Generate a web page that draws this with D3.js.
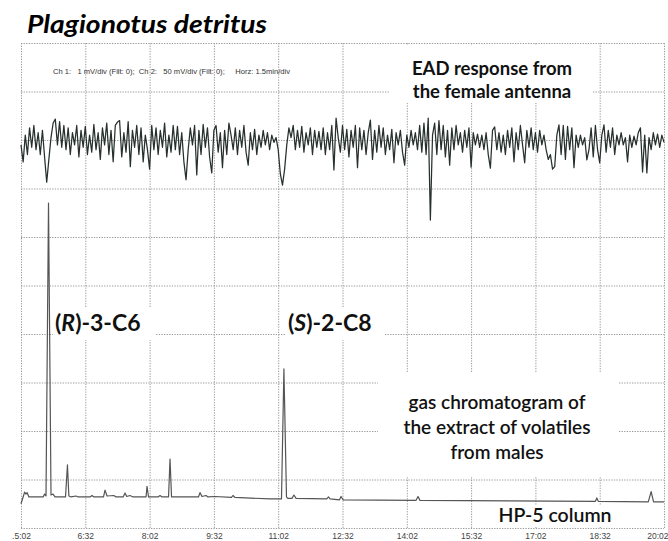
<!DOCTYPE html>
<html><head><meta charset="utf-8">
<script src="https://cdn.jsdelivr.net/npm/d3@7"></script>
<style>body{margin:0;background:#fff}svg{display:block}</style>
</head><body>
<script>
// ---- data ----
const tickTimes  = [302,392,482,572,662,752,842,932,1022,1112,1202]; // seconds
const tickLabels = [".5:02","6:32","8:02","9:32","11:02","12:32","14:02","15:32","17:02","18:32","20:02"];
const gcGridValues = [0,50,100,150,200,250,300,350,400,450,500]; // mV (50 mV/div)

// EAD trace (Ch 1, mV), one sample every 3 s starting at 302 s
const eadStart = 302, eadStep = 3;
const eadValues = [
 -0.1,-0.45,0.1,-0.3,0.25,-0.15,0.3,-0.2,0.15,-0.3,0.2,-0.35,-0.87,-0.4,0.05,0.35,0.43,-0.1,0.38,-0.15,
 0.3,-0.2,0.25,-0.3,0.15,-0.1,0.3,-0.35,0.2,-0.15,0.28,-0.3,0.1,-0.25,0.32,-0.2,0.15,-0.4,0.25,-0.1,
 0.35,-0.3,0.2,-0.45,0.3,0.37,0.4,-0.35,0.15,-0.25,0.38,-0.55,0.2,-0.15,0.3,-0.3,0.25,-0.45,0.1,-0.2,
 -0.6,0.3,-0.2,0.25,-0.3,0.2,-0.15,0.35,-0.35,0.1,-0.25,0.3,-0.2,0.28,-0.3,0.15,-0.45,-0.82,-0.2,0.25,
 -0.1,0.3,-0.72,0.2,-0.3,0.32,-0.15,0.25,-0.35,-0.68,0.2,0.3,-0.25,0.15,-0.57,0.2,-0.3,0.35,0.1,-0.2,
 0.25,-0.3,0.2,-0.15,0.3,-0.25,-0.52,0.15,-0.2,0.22,-0.3,0.1,-0.15,0.2,-0.1,0.15,-0.2,0.1,-0.05,0.05,
 -0.2,-0.7,-0.93,-0.6,-0.1,0.25,0.05,0.3,-0.2,0.2,-0.15,0.28,-0.25,0.15,-0.1,0.25,-0.3,0.2,-0.15,0.18,
 -0.2,0.25,-0.3,0.15,-0.2,0.3,-0.62,0.45,0.05,-0.25,0.3,-0.2,0.22,-0.35,0.2,-0.15,0.3,-0.57,0.25,-0.2,
 0.2,-0.3,0.15,0.41,-0.4,0.2,-0.25,0.3,-0.15,0.25,-0.3,0.1,-0.2,0.22,-0.47,0.15,-0.1,0.2,-0.25,-0.52,
 0.1,-0.15,0.2,-0.1,0.15,-0.2,0.3,-0.25,0.35,-0.3,0.45,-1.65,0.1,0.35,-0.3,0.4,-0.2,0.3,-0.35,0.2,
 -0.52,0.25,-0.2,0.3,-0.1,0.15,-0.25,0.2,-0.15,0.25,-0.56,0.15,-0.1,0.12,-0.15,0.1,-0.2,0.15,-0.3,-0.58,
 0.2,0.27,-0.2,0.15,-0.25,0.1,-0.3,0.2,-0.15,0.25,-0.45,0.15,-0.2,0.3,-0.1,-0.47,0.2,-0.15,0.25,-0.2,
 0.15,-0.25,0.2,-0.1,0.1,-0.2,-0.4,-0.3,-0.6,-0.55,0.1,0.31,-0.3,0.3,-0.4,0.28,-0.2,0.25,-0.57,0.1,
 -0.15,0.1,-0.1,0.05,-0.41,-0.2,0.25,-0.35,0.3,-0.2,-0.47,0.1,0.31,-0.25,0.2,-0.15,0.25,-0.3,0.1,-0.1,
 0.15,-0.1,0.05,-0.45,0.1,-0.15,0.08,-0.1,0.15,0.25,-0.66,0.1,-0.68,0.05,-0.2,0.15,-0.1,0.12,-0.15,0.1,-0.05
];

// GC trace (Ch 2): retention time (s) and signal (mV)
const gcTimes = [302,305,307,309,310.5,313,333,335,337,340.5,344,346.8,349.6,364.3,367,369,372,379,382,398.6,401.4,404,
 417.5,419.6,422.4,432,435,445,447.6,450,454.5,458.8,477,478.4,480.5,493.8,496.6,499.4,508.5,510.6,512.7,
 550.4,552.5,555.3,561,563.7,573.5,596.6,598.7,601.5,650.5,666.6,670,673.6,675.5,681.3,684,687,
 730,732.4,734.6,747.8,750,753,855,857.7,860.5,1106,1108,1110,1180,1184,1187.4,1202];
const gcValues = [25,32,37,35,36.5,32,32,35,33,335,34,35,32,32,65,33,32,33,32,32,33.5,32,
 32,39,33,33.5,32,32,36,32.5,33.5,32,32,43,32,32,33.5,32,32,71,32,
 32,36.5,32.5,33.5,32,32.5,31.5,33.5,31.5,30,30,164,32,30.5,30.5,34,30.5,
 30,32,30,29,32.5,29,28.5,32.5,28.5,27.5,31,27.5,27,37.5,27,27];

// ---- layout ----
const W = 668, H = 541;
const L = 21, R = 664, T = 43, B = 528;
const svg = d3.select("body").append("svg").attr("width", W).attr("height", H);

const x = d3.scaleLinear().domain([302,1202]).range([L,R]);
const yGC = d3.scaleLinear().domain([0,500]).range([B,T]);
const yEAD = d3.scaleLinear().domain([-8,2]).range([B,T]); // 1 mV/div

const gridCol = "#9a9a9a";
// vertical grid
svg.append("g").attr("transform",`translate(0,${B})`)
  .call(d3.axisBottom(x).tickValues(tickTimes).tickSize(-(B-T)).tickFormat(""))
  .call(g=>g.select(".domain").remove())
  .call(g=>g.selectAll("line").attr("stroke",gridCol).attr("stroke-dasharray","1.3,1.3").attr("stroke-width",1));
// horizontal grid
svg.append("g").attr("transform",`translate(${L},0)`)
  .call(d3.axisLeft(yGC).tickValues(gcGridValues).tickSize(-(R-L)).tickFormat(""))
  .call(g=>g.select(".domain").remove())
  .call(g=>g.selectAll("line").attr("stroke",gridCol).attr("stroke-dasharray","1.3,1.3").attr("stroke-width",1));

// time labels
svg.append("g").attr("transform",`translate(0,${B})`)
  .call(d3.axisBottom(x).tickValues(tickTimes).tickSize(0).tickPadding(5).tickFormat((d,i)=>tickLabels[i]))
  .call(g=>g.select(".domain").remove())
  .call(g=>g.selectAll("text").attr("font-family","Liberation Sans, Arial, sans-serif").attr("font-size",8.5).attr("fill","#444"))
  .call(g=>g.selectAll("text").filter((d,i)=>i===tickTimes.length-1).attr("text-anchor","end").attr("dx",4));

// white label boxes (hide grid behind annotations)
const boxes = [[390,45,203,58],[53,308,102,32],[286,308,98,32],[378,373,240,104],[494,505,121,22]];
svg.append("g").selectAll("rect").data(boxes).join("rect")
  .attr("x",d=>d[0]).attr("y",d=>d[1]).attr("width",d=>d[2]).attr("height",d=>d[3]).attr("fill","#fff");

// EAD trace
const eadLine = d3.line().x((d,i)=>x(eadStart+i*eadStep)).y(d=>yEAD(d));
svg.append("path").datum(eadValues).attr("d",eadLine)
  .attr("fill","none").attr("stroke","#26302c").attr("stroke-width",1.25).attr("stroke-linejoin","round");

// GC trace
const gcLine = d3.line().x(d=>x(d[0])).y(d=>yGC(d[1]));
svg.append("path").datum(gcTimes.map((t,i)=>[t,gcValues[i]])).attr("d",gcLine)
  .attr("fill","none").attr("stroke","#555").attr("stroke-width",1.2).attr("stroke-linejoin","round");

// ---- texts ----
const F = "Lato, 'Open Sans', sans-serif";
svg.append("text").attr("x",27).attr("y",33).attr("font-family",F).attr("font-weight","bold")
  .attr("font-style","italic").attr("font-size",25).attr("textLength",240).attr("lengthAdjust","spacingAndGlyphs")
  .text("Plagionotus detritus");

svg.append("text").attr("x",53).attr("y",74).attr("font-family","Liberation Sans, Arial, sans-serif")
  .attr("font-size",7).attr("fill","#333").attr("xml:space","preserve")
  .attr("textLength",237).attr("lengthAdjust","spacingAndGlyphs")
  .text("Ch 1:   1 mV/div (Filt: 0);  Ch 2:   50 mV/div (Filt: 0);     Horz: 1.5min/div");

function label(lines, cx, y0, dy, size, weight){
  lines.forEach((s,i)=>{
    svg.append("text").attr("x",cx).attr("y",y0+i*dy).attr("text-anchor","middle")
      .attr("font-family",F).attr("font-weight",weight).attr("font-size",size).attr("fill","#111").text(s);
  });
}
label(["EAD response from","the female antenna"],492,75,23,18.5,"bold");
label(["gas chromatogram of","the extract of volatiles","from males"],497,409,25,19,"600");
label(["HP-5 column"],555,522,0,19.5,"600");

function chem(x0, letter, rest){
  const t = svg.append("text").attr("x",x0).attr("y",331).attr("font-family",F)
    .attr("font-weight","bold").attr("font-size",23).attr("fill","#111");
  t.append("tspan").text("(");
  t.append("tspan").attr("font-style","italic").text(letter);
  t.append("tspan").text(")"+rest);
}
chem(55,"R","-3-C6");
chem(288,"S","-2-C8");
</script>
</body></html>
